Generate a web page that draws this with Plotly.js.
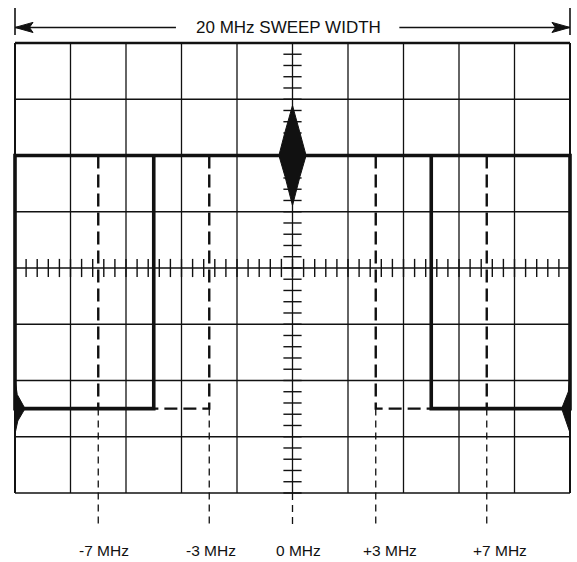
<!DOCTYPE html>
<html><head><meta charset="utf-8">
<script src="https://cdn.plot.ly/plotly-3.0.1.min.js"></script>
<style>html,body{margin:0;padding:0;background:#fff;}#chart{width:577px;height:562px;}</style>
</head><body><div id="chart"></div>
<script>
// ---- data (x in MHz, y in screen divisions) ----
const gridX = [-10, -8, -6, -4, -2, 0, 2, 4, 6, 8, 10];
const gridY = [-4, -3, -2, -1, 0, 1, 2, 3, 4];
const sweepEdges = [-10, 10];
const passbandEdges = [-5, 5];
const levelHigh = 2;
const levelLow = -2.5;
const markerFreqs = [-7, -3, 0, 3, 7];
const markerLabels = ['-7 MHz', '-3 MHz', '0 MHz', '+3 MHz', '+7 MHz'];
const sweepLabel = '20 MHz SWEEP WIDTH';

// ---- style constants ----
const INK = '#111';
const minorStepX = 0.4, minorStepY = 0.2;
const sweepY = 4.276, sweepBar = [4.14, 4.62], sweepGap = [-4.2, 3.85];
const labelY = -5.03, labelShift = [6, 2, 6, 14, 13];
const lowerDashEnd = -4.6;
const tickSize = 13;

const traces = [];
function seg(xs, ys, line, extra) {
  traces.push(Object.assign({type: 'scatter', mode: 'lines', x: xs, y: ys, line: line, hoverinfo: 'skip', showlegend: false}, extra || {}));
}

// graticule
let vx = [], vy = [];
gridX.forEach(g => { vx.push(g, g, null); vy.push(gridY[0], gridY[gridY.length - 1], null); });
seg(vx, vy, {color: INK, width: 1.3});
let hx = [], hy = [];
gridY.forEach(g => { hx.push(gridX[0], gridX[gridX.length - 1], null); hy.push(g, g, null); });
seg(hx, hy, {color: INK, width: 1.3});
// heavier border
seg([gridX[0], gridX[gridX.length - 1]], [gridY[gridY.length - 1], gridY[gridY.length - 1]], {color: INK, width: 2.6});
seg([gridX[0], gridX[0]], [gridY[0], gridY[gridY.length - 1]], {color: INK, width: 2});
seg([gridX[gridX.length - 1], gridX[gridX.length - 1]], [gridY[0], gridY[gridY.length - 1]], {color: INK, width: 2});

// centre-line minor ticks
const tx = [], ty = [];
for (let v = gridX[0]; v <= gridX[gridX.length - 1] + 1e-9; v += minorStepX) { tx.push(+v.toFixed(2)); ty.push(0); }
traces.push({type: 'scatter', mode: 'markers', x: tx, y: ty, hoverinfo: 'skip', showlegend: false,
  marker: {symbol: 'line-ns', size: tickSize, line: {color: INK, width: 1.4}}});
const ux = [], uy = [];
for (let v = gridY[0]; v <= gridY[gridY.length - 1] + 1e-9; v += minorStepY) { ux.push(0); uy.push(+v.toFixed(2)); }
traces.push({type: 'scatter', mode: 'markers', x: ux, y: uy, hoverinfo: 'skip', showlegend: false,
  marker: {symbol: 'line-ew', size: tickSize, line: {color: INK, width: 1.4}}});

// dashed marker lines (upper, heavy)
markerFreqs.forEach((f, i) => {
  if (f === 0) return;
  if (Math.abs(f) === 3) {
    const edge = f < 0 ? passbandEdges[0] : passbandEdges[1];
    seg([f, f, edge], [levelHigh, levelLow, levelLow], {color: INK, width: 2.4, dash: '13px,6px'});
  } else {
    seg([f, f], [levelHigh, levelLow], {color: INK, width: 2.4, dash: '13px,6px'});
  }
});
// dashed marker lines (lower, light)
markerFreqs.forEach(f => {
  const top = f === 0 ? gridY[0] : levelLow;
  seg([f, f], [top, lowerDashEnd], {color: INK, width: 1.3, dash: '7px,5px'});
});

// main response trace
seg([passbandEdges[0], passbandEdges[0], sweepEdges[0], sweepEdges[0], sweepEdges[1], sweepEdges[1], passbandEdges[1], passbandEdges[1]],
    [levelHigh, levelLow, levelLow, levelHigh, levelHigh, levelLow, levelLow, levelHigh],
    {color: INK, width: 3.6});

// centre marker diamond
const dW = 0.49, dH = 0.89;
traces.push({type: 'scatter', mode: 'lines', fill: 'toself', fillcolor: INK, line: {color: INK, width: 1},
  x: [markerFreqs[2], markerFreqs[2] + dW * 0.55, markerFreqs[2] + dW, markerFreqs[2] + dW * 0.55, markerFreqs[2], markerFreqs[2] - dW * 0.55, markerFreqs[2] - dW, markerFreqs[2] - dW * 0.55, markerFreqs[2]],
  y: [levelHigh + dH, levelHigh + dH * 0.47, levelHigh, levelHigh - dH * 0.42, levelHigh - dH, levelHigh - dH * 0.42, levelHigh, levelHigh + dH * 0.47, levelHigh + dH],
  hoverinfo: 'skip', showlegend: false});

// edge markers on low level
const eL = sweepEdges[0], eR = sweepEdges[1];
traces.push({type: 'scatter', mode: 'lines', fill: 'toself', fillcolor: INK, line: {color: INK, width: 1},
  x: [eL, eL + 0.08, eL + 0.36, eL + 0.1, eL, eL],
  y: [levelLow + 0.52, levelLow + 0.25, levelLow, levelLow - 0.22, levelLow - 0.45, levelLow + 0.52],
  hoverinfo: 'skip', showlegend: false});
traces.push({type: 'scatter', mode: 'lines', fill: 'toself', fillcolor: INK, line: {color: INK, width: 1},
  x: [eR, eR - 0.06, eR - 0.3, eR - 0.12, eR, eR],
  y: [levelLow + 0.62, levelLow + 0.3, levelLow, levelLow - 0.25, levelLow - 0.43, levelLow + 0.62],
  hoverinfo: 'skip', showlegend: false});

// sweep-width dimension line
seg([sweepEdges[0], sweepGap[0], null, sweepGap[1], sweepEdges[1]], [sweepY, sweepY, null, sweepY, sweepY], {color: INK, width: 1.4});
seg([sweepEdges[0], sweepEdges[0], null, sweepEdges[1], sweepEdges[1]], [sweepBar[0], sweepBar[1], null, sweepBar[0], sweepBar[1]], {color: INK, width: 1.6});
const aL = 0.65, aH = 0.09;
traces.push({type: 'scatter', mode: 'lines', fill: 'toself', fillcolor: INK, line: {color: INK, width: 1},
  x: [sweepEdges[0], sweepEdges[0] + aL, sweepEdges[0] + aL * 0.8, sweepEdges[0] + aL, sweepEdges[0]],
  y: [sweepY, sweepY + aH, sweepY, sweepY - aH, sweepY], hoverinfo: 'skip', showlegend: false});
traces.push({type: 'scatter', mode: 'lines', fill: 'toself', fillcolor: INK, line: {color: INK, width: 1},
  x: [sweepEdges[1], sweepEdges[1] - aL, sweepEdges[1] - aL * 0.8, sweepEdges[1] - aL, sweepEdges[1]],
  y: [sweepY, sweepY + aH, sweepY, sweepY - aH, sweepY], hoverinfo: 'skip', showlegend: false});

const annotations = [{x: -0.15, y: sweepY, xref: 'x', yref: 'y', text: sweepLabel, showarrow: false,
  font: {family: 'Liberation Sans, Arial, sans-serif', size: 17, color: INK}}];
markerFreqs.forEach((f, i) => annotations.push({x: f, y: labelY, xref: 'x', yref: 'y', text: markerLabels[i],
  showarrow: false, xshift: labelShift[i], font: {family: 'Liberation Sans, Arial, sans-serif', size: 15.5, color: INK}}));

const layout = {
  width: 577, height: 562,
  margin: {l: 10, r: 2, t: 0, b: 0},
  paper_bgcolor: '#fff', plot_bgcolor: '#fff',
  xaxis: {range: [-10.18, 10.18], visible: false, fixedrange: true},
  yaxis: {range: [-5.227, 4.764], visible: false, fixedrange: true},
  annotations: annotations,
  showlegend: false
};
Plotly.newPlot('chart', traces, layout, {staticPlot: true, displayModeBar: false});
</script></body></html>
